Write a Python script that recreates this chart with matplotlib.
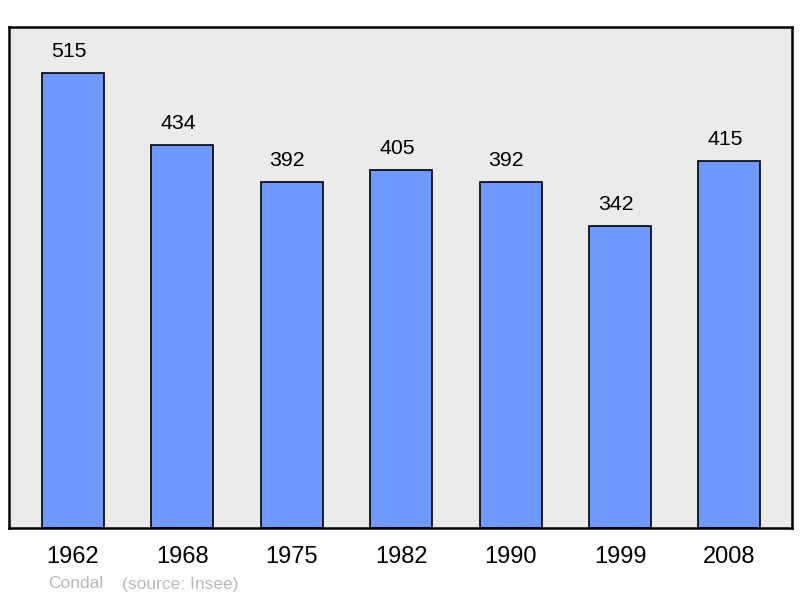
import matplotlib
matplotlib.use("Agg")
import matplotlib.pyplot as plt

years = ["1962", "1968", "1975", "1982", "1990", "1999", "2008"]
population = [515, 434, 392, 405, 392, 342, 415]
place = "Condal"
source = "(source: Insee)"

plt.rcParams['font.family'] = ['Liberation Sans', 'DejaVu Sans']
fig = plt.figure(figsize=(8, 5.98), dpi=100)
ax = fig.add_axes([9/800, 70/598, 783/800, 501/598])
ax.set_facecolor('#ebebeb')
x = list(range(len(years)))
ax.bar(x, population, width=0.567, color='#7099ff', edgecolor='black', linewidth=1.2)
for xi, v in zip(x, population):
    ax.text(xi - 0.04, v + 18, str(v), ha='center', va='baseline', fontsize=15.3)
ax.set_xlim(-0.585, 6.572)
ax.set_ylim(0, 567)
ax.set_yticks([])
ax.set_xticks(x)
ax.set_xticklabels(years, fontsize=17)
ax.tick_params(axis='x', length=0, pad=13)
for s in ax.spines.values():
    s.set_linewidth(1.8)
fig.text(48/800, 1 - 584/598, place, color='#b8b8b8', fontsize=12.5, va='center', ha='left')
fig.text(122/800, 1 - 584/598, source, color='#b8b8b8', fontsize=12.5, va='center', ha='left')
fig.savefig("out.png", dpi=100)
